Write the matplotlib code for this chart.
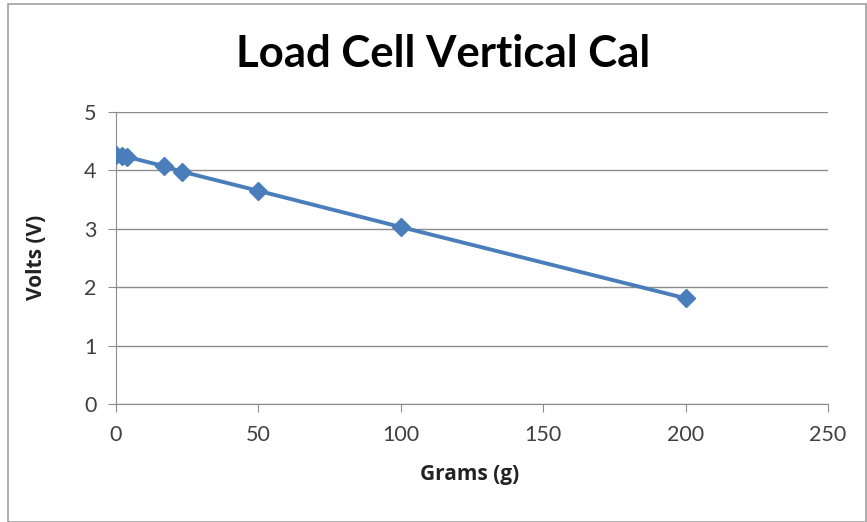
import matplotlib
matplotlib.use("Agg")
import matplotlib.pyplot as plt
from matplotlib.patches import Rectangle

grams = [0, 2, 4, 17, 23, 50, 100, 200]
volts = [4.27, 4.25, 4.23, 4.07, 3.98, 3.65, 3.03, 1.81]
x_ticks = [0, 50, 100, 150, 200, 250]
y_ticks = [0, 1, 2, 3, 4, 5]

plt.rcParams['font.family'] = ['Lato', 'DejaVu Sans']

fig = plt.figure(figsize=(8.67, 5.22), dpi=100)
fig.patches.append(Rectangle((0.009, 0.0), 0.99, 0.992, transform=fig.transFigure,
                             fill=False, edgecolor='#a0a0a0', linewidth=1.2))
ax = fig.add_axes([0.1338, 0.2261, 0.8212, 0.5594])

ax.plot(grams, volts, color='#4a7ebb', linewidth=2.8, marker='D', markersize=9,
        markerfacecolor='#4a7ebb', markeredgecolor='#4a7ebb', zorder=3)

ax.set_xlim(0, 250)
ax.set_ylim(0, 5)
ax.set_xticks(x_ticks)
ax.set_yticks(y_ticks)
ax.grid(axis='y', color='#8c8c8c', linewidth=1)
ax.set_axisbelow(True)
for s in ['top', 'right']:
    ax.spines[s].set_visible(False)
for s in ['left', 'bottom']:
    ax.spines[s].set_color('#8c8c8c')
ax.tick_params(axis='both', colors='#8c8c8c', labelcolor='#404040', labelsize=15.5, length=6)
ax.tick_params(axis='x', pad=9)
ax.tick_params(axis='y', pad=8)

lab_font = ['Open Sans', 'DejaVu Sans']
ax.set_xlabel('Grams (g)', fontsize=15, fontweight='bold', color='#222222',
              family=lab_font, va='center')
ax.set_ylabel('Volts (V)', fontsize=15, fontweight='bold', color='#222222',
              family=lab_font, va='center')
ax.xaxis.set_label_coords(0.497, -0.243)
ax.yaxis.set_label_coords(-0.112, 0.503)
fig.text(0.511, 0.897, 'Load Cell Vertical Cal', ha='center', va='center',
         fontsize=31.5, fontweight='bold', color='black')

fig.savefig('out.png', dpi=100)
